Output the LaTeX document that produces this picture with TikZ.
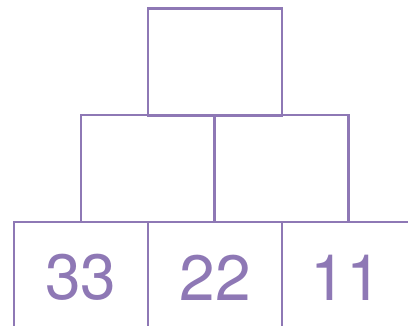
\documentclass[tikz,border=0pt]{standalone}
\usepackage{fontspec}
\setmainfont{TeX Gyre Heros}
\definecolor{pyr}{HTML}{8E78B5}
\begin{document}
\begin{tikzpicture}[x=1pt,y=-1pt,
  cell/.style={draw=pyr,line width=2.3pt,rectangle,inner sep=0pt,
    minimum width=134pt,minimum height=107pt},
  num/.style={text=pyr,inner sep=0pt,font=\fontsize{64}{64}\selectfont}]
\useasboundingbox (0,0) rectangle (408,326);
\clip (0,0) rectangle (408,326);
\node[cell] (t) at (215,62) {};
\node[cell] (m1) at (148,168.5) {};
\node[cell] (m2) at (281.5,168.5) {};
\node[cell,minimum height=109pt] (b1) at (81,276.5) {};
\node[cell,minimum height=109pt] (b2) at (215,276.5) {};
\node[cell,minimum height=109pt] (b3) at (349,276.5) {};
\node[num] (n1) at (81,277.5) {33};
\node[num] (n2) at (215,277.5) {22};
\node[num] (n3) at (346,277.5) {11};
\end{tikzpicture}
\end{document}
